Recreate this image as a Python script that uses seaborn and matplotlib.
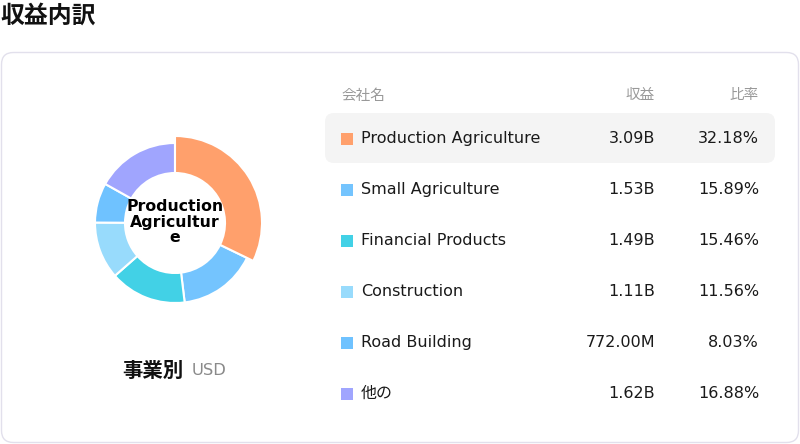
import numpy as np
import matplotlib
matplotlib.use("Agg")
import matplotlib.pyplot as plt
from matplotlib.patches import FancyBboxPatch
import seaborn as sns

# data
segments = ["Production Agriculture", "Small Agriculture", "Financial Products",
            "Construction", "Road Building", "他の"]
revenue_labels = ["3.09B", "1.53B", "1.49B", "1.11B", "772.00M", "1.62B"]
shares = [32.18, 15.89, 15.46, 11.56, 8.03, 16.88]
seg_colors = ["#FFA06C", "#74C4FE", "#42D1E6", "#98DBFC", "#6FC2FF", "#A0A5FE"]

sns.set_theme(style="white")
plt.rcParams['font.family'] = ['DejaVu Sans', 'Noto Sans CJK JP']
palette = sns.color_palette(seg_colors)

fig = plt.figure(figsize=(8, 4.44), dpi=100)

# background axes in pixel coordinates
bg = fig.add_axes([0, 0, 1, 1])
bg.set_xlim(0, 800)
bg.set_ylim(444, 0)
bg.axis("off")

bg.text(0, 16, "収益内訳", fontsize=17.2, fontweight="bold", va="center", ha="left",
        family=['Noto Sans CJK JP'], color="#111111")

card = FancyBboxPatch((1.5, 52.5), 797, 390, boxstyle="round,pad=0,rounding_size=12",
                      fc="white", ec="#E2E0EC", lw=1)
bg.add_patch(card)

# header
hdr_y = 95
bg.text(341, hdr_y, "会社名", fontsize=10.5, color="#999999", va="center", ha="left")
bg.text(655, hdr_y, "収益", fontsize=10.5, color="#999999", va="center", ha="right")
bg.text(759, hdr_y, "比率", fontsize=10.5, color="#999999", va="center", ha="right")

# highlighted row
hl = FancyBboxPatch((325, 113), 450, 50, boxstyle="round,pad=0,rounding_size=9",
                    fc="#F4F4F4", ec="none")
bg.add_patch(hl)

row_y = 138.5
for name, rev, sh, col in zip(segments, revenue_labels, shares, palette):
    bg.add_patch(plt.Rectangle((341, row_y - 6), 12, 12, fc=col, ec="none"))
    bg.text(361, row_y, name, fontsize=11.5, color="#1a1a1a", va="center", ha="left")
    bg.text(655, row_y, rev, fontsize=11.5, color="#1a1a1a", va="center", ha="right")
    bg.text(759, row_y, f"{sh:.2f}%", fontsize=11.5, color="#1a1a1a", va="center", ha="right")
    row_y += 51

bg.text(183, 370, "事業別", fontsize=14.7, fontweight="bold", va="center", ha="right",
        family=['Noto Sans CJK JP'], color="#111111")
bg.text(192, 370, "USD", fontsize=11.8, color="#8a8a8a", va="center", ha="left")

# donut
cx, cy = 175, 223
pie_ax = fig.add_axes([(cx - 100) / 800, (444 - cy - 100) / 444, 200 / 800, 200 / 444])
pie_ax.set_xlim(-100, 100)
pie_ax.set_ylim(-100, 100)
pie_ax.axis("off")

wedges, _ = pie_ax.pie(shares, colors=palette, startangle=90, counterclock=False,
                       radius=80, wedgeprops=dict(width=30, edgecolor="white", linewidth=1.5))
big, _ = pie_ax.pie(shares, colors=palette, startangle=90, counterclock=False,
                    radius=87, wedgeprops=dict(width=37, edgecolor="white", linewidth=1.5))
for w in big[1:]:
    w.set_visible(False)
wedges[0].set_visible(False)
pie_ax.set_xlim(-100, 100)
pie_ax.set_ylim(-100, 100)
pie_ax.set_aspect("auto")

pie_ax.text(0, 1, "Production\nAgricultur\ne", ha="center", va="center",
            fontsize=11.3, fontweight="bold", color="black", linespacing=1.03)

fig.savefig("out.png", dpi=100)
